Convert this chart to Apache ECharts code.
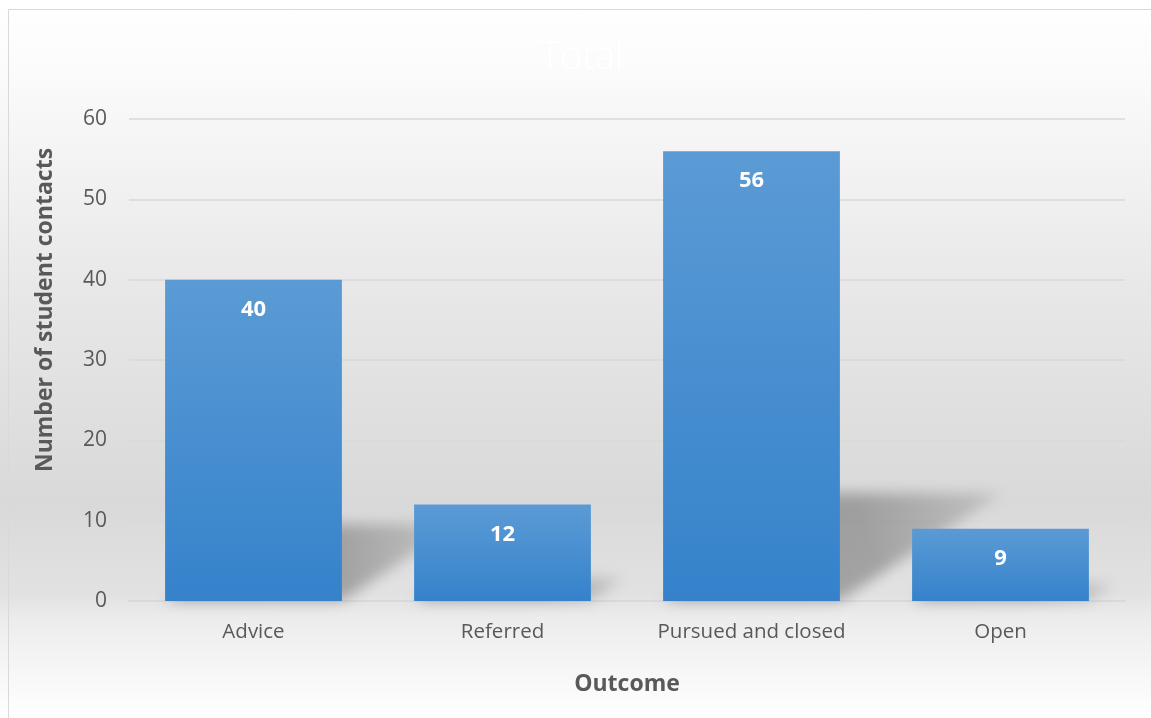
<!DOCTYPE html>
<html>
<head>
<meta charset="UTF-8">
<title>Total</title>
<script type="text/javascript" src="https://cdn.jsdelivr.net/npm/echarts@6/dist/echarts.min.js"></script>
<style>
html,body{margin:0;padding:0;background:#fff;}
</style>
</head>
<body>

<div id="box" style="width:1151px;height:718px;"></div>

<script type="text/javascript">

// categories and values
var outcomes=['Advice','Referred','Pursued and closed','Open'];
var contacts=[40,12,56,9];
var yTicks=[0,10,20,30,40,50,60];

var mychart=echarts.init(document.getElementById('box'));

var font='"Open Sans", "Noto Sans", sans-serif';
var OFF=3000; // shadows are drawn off screen and cast back with shadowOffsetX

var option={
  backgroundColor:new echarts.graphic.LinearGradient(0,0,0,1,[
    {offset:0,color:'#ffffff'},
    {offset:0.1,color:'#fbfbfb'},
    {offset:0.4,color:'#e8e8e8'},
    {offset:0.7,color:'#d9d9d9'},
    {offset:0.83,color:'#e2e2e2'},
    {offset:0.86,color:'#ececec'},
    {offset:0.93,color:'#f6f6f6'},
    {offset:1,color:'#ffffff'}
  ]),
  title:{
    text:'Total',
    left:535,
    top:34,
    textStyle:{color:'#ffffff',fontFamily:font,fontWeight:300,fontSize:38}
  },
  //border of chart area
  graphic:[{
    type:'rect',
    left:6,top:7,
    shape:{width:1200,height:760},
    style:{fill:'none',stroke:'#d9d9d9',lineWidth:1},
    silent:true
  }],
  grid:{left:129,right:26,top:119,bottom:117},
  xAxis:{
    type:'category',
    data:outcomes,
    name:'Outcome',
    nameLocation:'middle',
    nameGap:72,
    nameTextStyle:{color:'#595959',fontFamily:font,fontWeight:'bold',fontSize:23},
    axisLine:{lineStyle:{color:'#d9d9d9',width:2}},
    axisTick:{show:false},
    axisLabel:{color:'#595959',fontFamily:font,fontSize:20.5,margin:21}
  },
  yAxis:{
    type:'value',
    min:yTicks[0],
    max:yTicks[yTicks.length-1],
    interval:10,
    name:'Number of student contacts',
    nameLocation:'middle',
    nameGap:72,
    nameTextStyle:{color:'#595959',fontFamily:font,fontWeight:'bold',fontSize:23,padding:[0,0,0,100]},
    axisLine:{show:false},
    axisTick:{show:false},
    axisLabel:{color:'#595959',fontFamily:font,fontSize:21,margin:22},
    splitLine:{lineStyle:{color:'#d9d9d9',width:1.5}}
  },
  series:[{
    // perspective shadows behind bars
    type:'custom',
    z:1,
    silent:true,
    data:contacts.map(function(v,i){return [i,v];}),
    renderItem:function(params,api){
      var top=api.coord([api.value(0),api.value(1)]);
      var base=api.coord([api.value(0),0]);
      var w=api.size([1,0])[0]*0.71;
      var h=base[1]-top[1];
      var x0=base[0]-w/2-OFF, x1=base[0]+w/2-OFF;
      var dx=h*0.36, dy=h*0.24;
      return {
        type:'polygon',
        shape:{points:[[x0,base[1]],[x1,base[1]],[x1+dx,base[1]-dy],[x0+dx,base[1]-dy]]},
        style:{
          fill:new echarts.graphic.LinearGradient(0,1,1,0,[
            {offset:0,color:'rgba(0,0,0,1)'},
            {offset:0.6,color:'rgba(0,0,0,0.9)'},
            {offset:1,color:'rgba(0,0,0,0.35)'}
          ]),
          shadowBlur:14,
          shadowOffsetX:OFF,
          shadowColor:'rgba(0,0,0,0.3)'
        }
      };
    }
  },{
    name:'Total',
    type:'bar',
    z:2,
    barWidth:'71%',
    data:contacts,
    itemStyle:{
      color:new echarts.graphic.LinearGradient(0,0,0,1,[
        {offset:0,color:'#5b9bd5'},
        {offset:1,color:'#3582cb'}
      ])
    },
    label:{
      show:true,
      position:'insideTop',
      distance:19,
      color:'#ffffff',
      fontFamily:font,
      fontWeight:'bold',
      fontSize:22
    }
  }]
};

mychart.setOption(option);
</script>
</body>
</html>
